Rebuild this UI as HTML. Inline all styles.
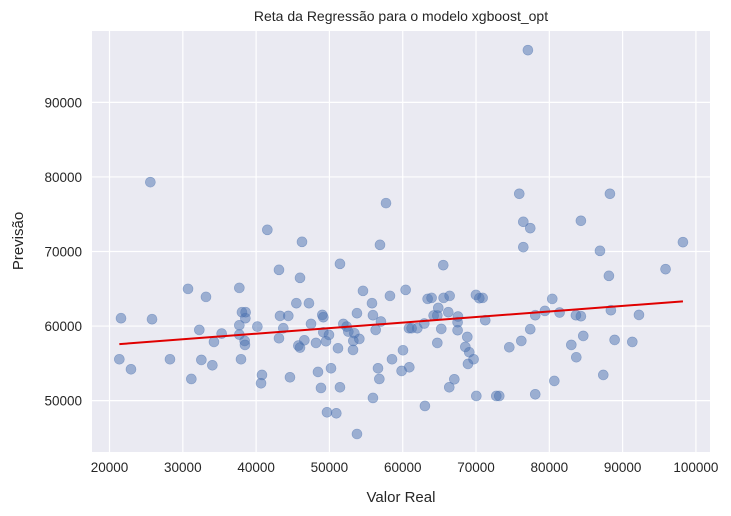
<!DOCTYPE html>
<html><head><meta charset="utf-8">
<style>
html,body{margin:0;padding:0;background:#fff;}
svg{display:block;font-family:"Liberation Sans",Arial,sans-serif;}
</style></head>
<body>
<svg id="chart" width="731" height="516" viewBox="0 0 731 516" xmlns="http://www.w3.org/2000/svg">
<rect x="92" y="31" width="618" height="421" fill="#eaeaf2"/>
<g id="grid"></g>
<g id="points"></g>
<g id="fit"></g>
<g id="ticks"></g>
<text x="401" y="21" text-anchor="middle" font-size="14" fill="#262626">Reta da Regressão para o modelo xgboost_opt</text>
<text x="401" y="502" text-anchor="middle" font-size="15" fill="#262626">Valor Real</text>
<text transform="translate(23,241) rotate(-90)" text-anchor="middle" font-size="15" fill="#262626">Previsão</text>
</svg>
<script>
const realValues=[25570,57720,41530,46260,56900,43120,45990,51440,30710,37710,33160,54580,58260,60400,45490,47210,55810,21570,25800,38070,38570,38530,43260,44390,49030,49170,53760,55940,57030,37710,40170,43710,47490,51900,52350,32250,35300,37710,43120,49170,49940,52580,53400,56310,60850,34250,38440,38480,46580,48170,49530,53260,54080,45760,45990,51170,53220,21340,28250,32530,37940,22930,34030,60040,58540,56630,60900,59850,31160,40800,40670,44620,48440,50220,48850,51440,56810,55940,49670,50940,53760,
75900,88270,76450,77400,84310,76450,86910,98230,65530,88130,95860,63400,63940,65580,66400,69990,70450,70900,80400,64850,66220,64220,64720,67540,67490,71260,78080,79400,81400,83630,84310,88400,92230,61215,61990,62940,65260,67490,68810,77400,84630,88910,91320,64720,68540,69080,69670,68900,74540,76180,83000,83680,67040,66350,80680,87360,70040,72765,73170,78080,63030,77080];
const predValues=[79300,76486,72907,71296,70893,67538,66464,68343,64988,65122,63914,64720,64048,64854,63064,63064,63064,61050,60917,61856,61856,61050,61363,61363,61498,61185,61721,61453,60603,60110,59932,59708,60290,60290,59932,59484,58993,58858,58366,59171,58813,59260,59037,59484,59708,57874,58008,57471,58098,57740,57964,58008,58276,57382,57113,57024,56800,55547,55547,55458,55547,54204,54741,56756,55547,54339,54473,53982,52908,53445,52327,53131,53847,54339,51700,51790,52908,50358,48434,48300,45525,
77739,77739,73980,73130,74115,70580,70088,71251,68164,66733,67628,63646,63780,63780,64048,64182,63735,63780,63646,62437,61856,61408,61408,61274,60514,60782,61453,62035,61811,61453,61319,62124,61498,59708,59708,60335,59619,59440,58545,59574,58679,58142,57874,57739,57203,56487,55547,54920,57158,58008,57471,55816,52862,51790,52640,53445,50626,50626,50626,50850,49284,97000];
const xTicks=[20000,30000,40000,50000,60000,70000,80000,90000,100000];
const yTicks=[50000,60000,70000,80000,90000];

const NS="http://www.w3.org/2000/svg";
const L=92,R=710,T=31,B=452;
const xMin=17610,xMax=101920,yMin=43110,yMax=99570;
function sx(v){return L+(v-xMin)/(xMax-xMin)*(R-L);}
function sy(v){return B-(v-yMin)/(yMax-yMin)*(B-T);}
function mk(tag,attrs,parent){const e=document.createElementNS(NS,tag);for(const k in attrs)e.setAttribute(k,attrs[k]);parent.appendChild(e);return e;}
const grid=document.getElementById('grid'),ticks=document.getElementById('ticks');
xTicks.forEach(t=>{
  const ln=mk('line',{x1:sx(t),x2:sx(t),y1:T,y2:B,stroke:'#fff','stroke-width':1.2},grid);
  
  
  const tx=mk('text',{x:sx(t),y:B+20,'text-anchor':'middle','font-size':13.5,fill:'#262626'},ticks);
  tx.textContent=t;
  
  
});
yTicks.forEach(t=>{
  const ln=mk('line',{x1:L,x2:R,y1:sy(t),y2:sy(t),stroke:'#fff','stroke-width':1.2},grid);
  
  
  const tx=mk('text',{x:L-10,y:sy(t)+5,'text-anchor':'end','font-size':13.5,fill:'#262626'},ticks);
  tx.textContent=t;
  
  
});
const pts=document.getElementById('points');
realValues.forEach((v,i)=>{
  const c=mk('circle',{cx:sx(v),cy:sy(predValues[i]),r:5,fill:'#4c72b0','fill-opacity':0.5,stroke:'#4c72b0','stroke-opacity':0.5,'stroke-width':0.6},pts);
  
  
});
// least squares fit
const n=realValues.length;
let mx=0,my=0;for(let i=0;i<n;i++){mx+=realValues[i];my+=predValues[i];}mx/=n;my/=n;
let sxy=0,sxx=0;for(let i=0;i<n;i++){sxy+=(realValues[i]-mx)*(predValues[i]-my);sxx+=(realValues[i]-mx)**2;}
const slope=sxy/sxx,icpt=my-slope*mx;
const x0=Math.min(...realValues),x1=Math.max(...realValues);
const fl=mk('line',{x1:sx(x0),y1:sy(icpt+slope*x0),x2:sx(x1),y2:sy(icpt+slope*x1),stroke:'#e00000','stroke-width':2},document.getElementById('fit'));


</script>
</body></html>
